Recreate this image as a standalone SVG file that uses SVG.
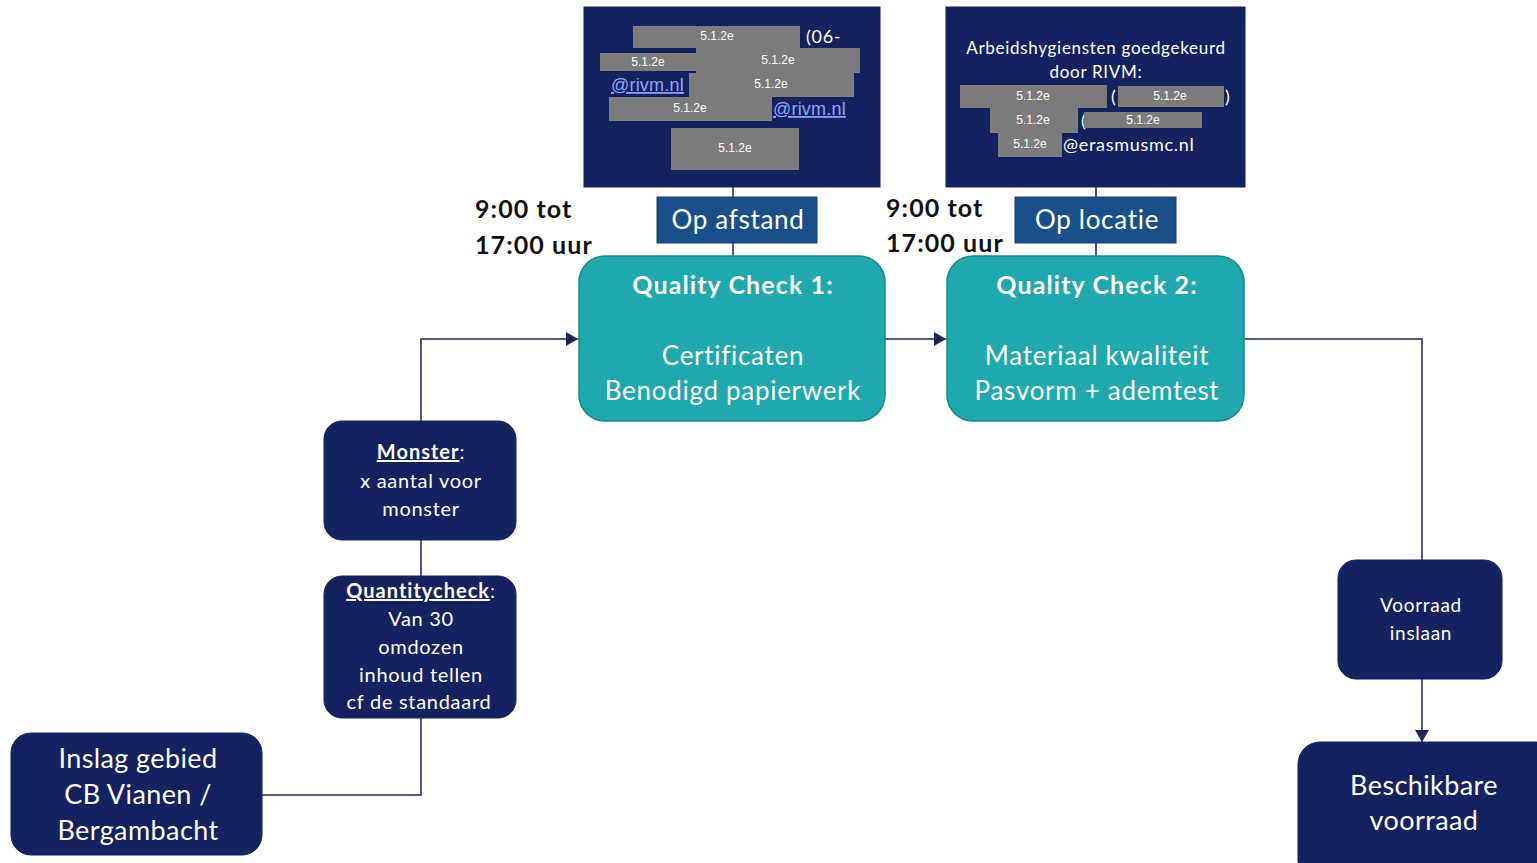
<svg xmlns="http://www.w3.org/2000/svg" width="1537" height="863" viewBox="0 0 1537 863">
<defs>
<marker id="arr" viewBox="0 0 10 10" refX="10" refY="5" markerWidth="12" markerHeight="14" markerUnits="userSpaceOnUse" orient="auto" preserveAspectRatio="none"><path d="M0,0 L10,5 L0,10 z" fill="#1b2559"/></marker>
<marker id="arrD" viewBox="0 0 10 10" refX="10" refY="5" markerWidth="12" markerHeight="14" markerUnits="userSpaceOnUse" orient="auto" preserveAspectRatio="none"><path d="M0,0 L10,5 L0,10 z" fill="#1b2559"/></marker>
<style>
text{font-family:"Lato","Open Sans","Liberation Sans",sans-serif;letter-spacing:0.7px;}
.navy{fill:#142260;stroke:#142260;}
.teal{fill:#1fa8ad;stroke:#178a8f;stroke-width:1.5;}
.tab{fill:#1b4f8b;stroke:#173f70;stroke-width:1;}
.red{fill:#7b7b7b;}
.rt{fill:#ffffff;font-family:"Liberation Sans",sans-serif;font-size:12px;text-anchor:middle;letter-spacing:0;}
.w{fill:#ffffff;text-anchor:middle;}
.wl{fill:#ffffff;}
.big{letter-spacing:0.4px;}
.b{font-weight:bold;letter-spacing:1.1px;}
.link{fill:#8fa6ff;text-decoration:underline;font-size:18px;font-family:"Liberation Sans",sans-serif;letter-spacing:0.2px;}
.conn{fill:none;stroke:#1b2559;stroke-width:1.5;}
.time{fill:#111111;font-weight:bold;font-size:25px;letter-spacing:1.1px;}
</style>
</defs>
<g id="connectors">
<line class="conn" x1="733" y1="187" x2="733" y2="256"/>
<line class="conn" x1="1096" y1="187" x2="1096" y2="256"/>
<line class="conn" x1="885" y1="339" x2="946" y2="339" marker-end="url(#arr)"/>
<polyline class="conn" points="421,421 421,339 578,339" marker-end="url(#arr)"/>
<line class="conn" x1="421" y1="540" x2="421" y2="576"/>
<polyline class="conn" points="421,718 421,795 262,795"/>
<polyline class="conn" points="1244,339 1422,339 1422,560"/>
<line class="conn" x1="1422" y1="679" x2="1422" y2="742" marker-end="url(#arrD)"/>
</g>
<g id="contact-remote">
<rect class="navy" x="584" y="7" width="296" height="180"/>
<rect class="red" x="633" y="26" width="167" height="22"/>
<text class="rt" x="717" y="40">5.1.2e</text>
<text class="wl" x="806" y="43" font-size="18" font-family="Liberation Sans,sans-serif">(06-</text>
<rect class="red" x="600" y="53" width="96" height="18"/>
<text class="rt" x="648" y="66" font-size="11">5.1.2e</text>
<rect class="red" x="696" y="48" width="164" height="25"/>
<text class="rt" x="778" y="64">5.1.2e</text>
<rect class="red" x="689" y="73" width="165" height="24"/>
<text class="rt" x="771" y="88">5.1.2e</text>
<text class="link" x="611" y="91">@rivm.nl</text>
<rect class="red" x="609" y="97" width="163" height="24"/>
<text class="rt" x="690" y="112">5.1.2e</text>
<text class="link" x="773" y="115">@rivm.nl</text>
<rect class="red" x="671" y="128" width="128" height="42"/>
<text class="rt" x="735" y="152">5.1.2e</text>
</g>
<g id="contact-onsite">
<rect class="navy" x="946" y="7" width="299" height="180"/>
<text class="w" x="1096" y="54" font-size="17">Arbeidshygiensten goedgekeurd</text>
<text class="w" x="1096" y="78" font-size="17">door RIVM:</text>
<rect class="red" x="960" y="85" width="147" height="23"/>
<text class="rt" x="1033" y="100">5.1.2e</text>
<text class="wl" x="1111" y="103" font-size="18">(</text>
<rect class="red" x="1118" y="86" width="106" height="21"/>
<text class="rt" x="1170" y="100">5.1.2e</text>
<text class="wl" x="1225" y="103" font-size="18">)</text>
<rect class="red" x="990" y="108" width="88" height="25"/>
<text class="rt" x="1033" y="124">5.1.2e</text>
<text class="wl" x="1081" y="127" font-size="18">(</text>
<rect class="red" x="1084" y="112" width="118" height="16"/>
<text class="rt" x="1143" y="124" font-size="11">5.1.2e</text>
<rect class="red" x="998" y="133" width="64" height="24"/>
<text class="rt" x="1030" y="148">5.1.2e</text>
<text class="wl" x="1063" y="151" font-size="18">@erasmusmc.nl</text>
</g>
<g id="time-1">
<text class="time" x="475" y="218">9:00 tot</text>
<text class="time" x="475" y="254">17:00 uur</text>
</g>
<g id="time-2">
<text class="time" x="886" y="217">9:00 tot</text>
<text class="time" x="886" y="252">17:00 uur</text>
</g>
<g id="op-afstand">
<rect class="tab" x="657" y="197" width="160" height="46"/>
<text class="w" x="738" y="229" font-size="26">Op afstand</text>
</g>
<g id="op-locatie">
<rect class="tab" x="1015" y="197" width="161" height="46"/>
<text class="w" x="1097" y="229" font-size="26">Op locatie</text>
</g>
<g id="qc1">
<rect class="teal" x="579" y="256" width="306" height="165" rx="26"/>
<text class="w b" x="733" y="294" font-size="25">Quality Check 1:</text>
<text class="w" x="733" y="365" font-size="26">Certificaten</text>
<text class="w" x="733" y="400" font-size="26">Benodigd papierwerk</text>
</g>
<g id="qc2">
<rect class="teal" x="947" y="256" width="297" height="165" rx="26"/>
<text class="w b" x="1097" y="294" font-size="25">Quality Check 2:</text>
<text class="w" x="1097" y="365" font-size="26">Materiaal kwaliteit</text>
<text class="w" x="1097" y="400" font-size="26">Pasvorm + ademtest</text>
</g>
<g id="monster">
<rect class="navy" x="324" y="421" width="192" height="119" rx="18"/>
<text class="w" x="421" y="459" font-size="20"><tspan font-weight="bold" text-decoration="underline" letter-spacing="1px">Monster</tspan>:</text>
<text class="w" x="421" y="488" font-size="20">x aantal voor</text>
<text class="w" x="421" y="516" font-size="20">monster</text>
</g>
<g id="quantitycheck">
<rect class="navy" x="324" y="576" width="192" height="142" rx="18"/>
<text class="w" x="421" y="598" font-size="20"><tspan font-weight="bold" text-decoration="underline" letter-spacing="1px">Quantitycheck</tspan>:</text>
<text class="w" x="421" y="626" font-size="20">Van 30</text>
<text class="w" x="421" y="654" font-size="20">omdozen</text>
<text class="w" x="421" y="682" font-size="20">inhoud tellen</text>
<text class="w" x="419" y="709" font-size="20">cf de standaard</text>
</g>
<g id="inslag">
<rect class="navy" x="11" y="733" width="251" height="122" rx="20"/>
<text class="w big" x="138" y="768" font-size="27">Inslag gebied</text>
<text class="w big" x="138" y="804" font-size="27">CB Vianen /</text>
<text class="w big" x="138" y="840" font-size="27">Bergambacht</text>
</g>
<g id="voorraad-inslaan">
<rect class="navy" x="1338" y="560" width="164" height="119" rx="18"/>
<text class="w" x="1421" y="612" font-size="19">Voorraad</text>
<text class="w" x="1421" y="640" font-size="19">inslaan</text>
</g>
<g id="beschikbare">
<rect class="navy" x="1298" y="742" width="260" height="140" rx="22"/>
<text class="w big" x="1424" y="795" font-size="27">Beschikbare</text>
<text class="w big" x="1424" y="830" font-size="27">voorraad</text>
</g>
</svg>
